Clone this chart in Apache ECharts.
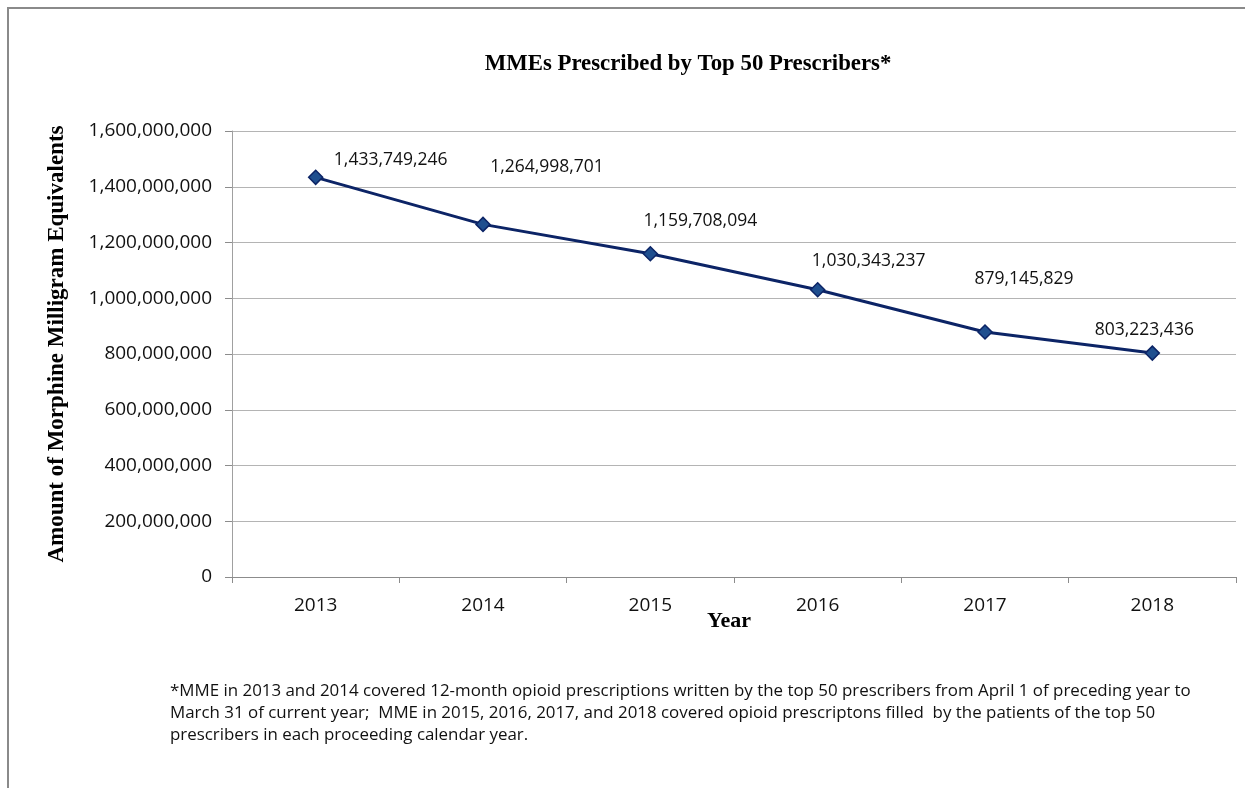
<!DOCTYPE html>
<html>
<head>
<meta charset="utf-8">
<script src="https://cdn.jsdelivr.net/npm/echarts@6/dist/echarts.min.js"></script>
<style>
html,body{margin:0;padding:0;background:#fff;}
#chart{width:1245px;height:788px;}
</style>
</head>
<body>
<div id="chart"></div>
<script>
// ---- data ----
const years = ['2013', '2014', '2015', '2016', '2017', '2018'];
const mmeValues = [1433749246, 1264998701, 1159708094, 1030343237, 879145829, 803223436];
const yTicks = [0, 200000000, 400000000, 600000000, 800000000, 1000000000, 1200000000, 1400000000, 1600000000];
const titleText = 'MMEs Prescribed by Top 50 Prescribers*';
const yAxisTitle = 'Amount of Morphine Milligram Equivalents';
const xAxisTitle = 'Year';
const footnoteLines = [
  '*MME in 2013 and 2014 covered 12-month opioid prescriptions written by the top 50 prescribers from April 1 of preceding year to',
  'March 31 of current year;  MME in 2015, 2016, 2017, and 2018 covered opioid prescriptons filled  by the patients of the top 50',
  'prescribers in each proceeding calendar year.'
];

// label placement (style only)
const labelOffsets = [[75, -17], [64, -57], [50, -33], [51, -29], [39, -53], [-8, -23]];

const fmt = v => v.toLocaleString('en-US');

const chart = echarts.init(document.getElementById('chart'), null, {renderer: 'canvas'});
const tickFont = "'Open Sans', 'Noto Sans', sans-serif";
const serif = "'Liberation Serif', 'DejaVu Serif', serif";

chart.setOption({
  animation: false,
  backgroundColor: '#ffffff',
  grid: {left: 232, right: 9, top: 131, bottom: 211, containLabel: false},
  xAxis: {
    type: 'category',
    data: years,
    boundaryGap: true,
    axisLine: {lineStyle: {color: '#8c8c8c', width: 1}},
    axisTick: {show: true, alignWithLabel: false, length: 6, lineStyle: {color: '#8c8c8c'}},
    axisLabel: {fontFamily: tickFont, fontSize: 19, color: '#111', margin: 19},
    splitLine: {show: false}
  },
  yAxis: {
    type: 'value',
    min: yTicks[0],
    max: yTicks[yTicks.length - 1],
    interval: yTicks[1] - yTicks[0],
    axisLine: {show: true, lineStyle: {color: '#a0a0a0', width: 1}},
    axisTick: {show: true, length: 7, lineStyle: {color: '#8c8c8c'}},
    axisLabel: {fontFamily: tickFont, fontSize: 19, color: '#111', margin: 20, formatter: v => fmt(v)},
    splitLine: {show: true, lineStyle: {color: '#b4b4b4', width: 1}}
  },
  title: {
    text: titleText,
    left: 683,
    top: 48,
    textAlign: 'center',
    textStyle: {fontFamily: serif, fontWeight: 'bold', fontSize: 22.8, color: '#000'}
  },
  graphic: [
    {
      type: 'rect',
      shape: {x: 8, y: 8, width: 1300, height: 900},
      style: {fill: 'none', stroke: '#8a8a8a', lineWidth: 2},
      silent: true
    },
    {
      type: 'text',
      x: 57,
      y: 344,
      rotation: Math.PI / 2,
      style: {
        text: yAxisTitle,
        fontFamily: serif,
        fontWeight: 'bold',
        fontSize: 23,
        fill: '#000',
        align: 'center',
        verticalAlign: 'middle'
      }
    },
    {
      type: 'text',
      x: 729,
      y: 621,
      style: {
        text: xAxisTitle,
        fontFamily: serif,
        fontWeight: 'bold',
        fontSize: 22,
        fill: '#000',
        align: 'center',
        verticalAlign: 'middle'
      }
    },
    {
      type: 'text',
      left: 170,
      top: 680,
      style: {
        text: footnoteLines.join('\n'),
        fontFamily: tickFont,
        fontSize: 16.9,
        lineHeight: 22,
        fill: '#111'
      }
    }
  ],
  series: [{
    type: 'line',
    data: mmeValues.map((v, i) => ({
      value: v,
      label: {offset: labelOffsets[i]}
    })),
    symbol: 'diamond',
    symbolSize: 14,
    lineStyle: {color: '#0c2466', width: 3},
    itemStyle: {color: '#1f4f8f', borderColor: '#0c2466', borderWidth: 1.5},
    label: {
      show: true,
      position: 'inside',
      formatter: p => fmt(p.value),
      fontFamily: tickFont,
      fontSize: 17.5,
      color: '#111'
    },
    z: 5
  }]
});
</script>
</body>
</html>
